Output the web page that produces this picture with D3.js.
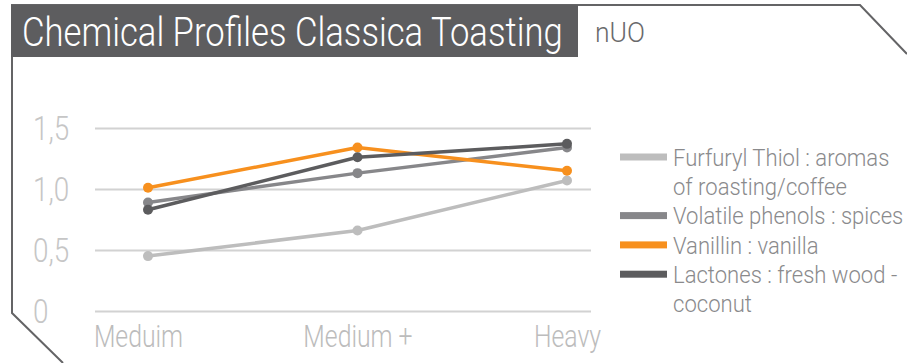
<!DOCTYPE html>
<html><head><meta charset="utf-8">
<script src="https://cdn.jsdelivr.net/npm/d3@7"></script>
<style>
html,body{margin:0;padding:0;background:#fff;}
svg{display:block;font-family:Roboto,"Open Sans",sans-serif;}
</style></head>
<body><svg id="chart" width="907" height="363"></svg>
<script>
const categories = ["Meduim", "Medium +", "Heavy"];
const seriesNames = ["Furfuryl Thiol : aromas of roasting/coffee", "Volatile phenols : spices", "Vanillin : vanilla", "Lactones : fresh wood - coconut"];
const legendLines = [["Furfuryl Thiol : aromas", "of roasting/coffee"], ["Volatile phenols : spices"], ["Vanillin : vanilla"], ["Lactones : fresh wood -", "coconut"]];
const furfurylThiol = [0.45, 0.66, 1.07];
const volatilePhenols = [0.89, 1.13, 1.34];
const vanillin = [1.01, 1.34, 1.15];
const lactones = [0.83, 1.26, 1.37];
const yTicks = [0, 0.5, 1.0, 1.5];
const yTickLabels = ["0", "0,5", "1,0", "1,5"];
const colors = ["#bdbdbd", "#87878a", "#f7901e", "#5c5c5e"];
const title = "Chemical Profiles Classica Toasting";
const unit = "nUO";

const series = [furfurylThiol, volatilePhenols, vanillin, lactones];
const svg = d3.select("#chart");

// horizontally condense a text placed at (px, py) by factor f (or to width w)
function placeCondensed(sel, px, py, f, w) {
  sel.each(function () {
    const n = this.getComputedTextLength();
    const k = w ? w / n : f;
    d3.select(this).attr("x", 0).attr("y", 0)
      .attr("transform", `translate(${px},${py}) scale(${k},1)`);
  });
}

// frame
svg.append("path")
  .attr("d", "M63,363 L12,313 L12,5 L860,5 L907,54")
  .attr("fill", "none").attr("stroke", "#646466").attr("stroke-width", 2);

// title box
svg.append("rect").attr("x", 11).attr("y", 5).attr("width", 567).attr("height", 52).attr("fill", "#5d5d5f");
placeCondensed(svg.append("text").attr("fill", "#fff")
  .attr("font-size", 40).attr("font-weight", 300).text(title), 22, 46, null, 541);
placeCondensed(svg.append("text").attr("fill", "#6a6a6c")
  .attr("font-size", 28).attr("font-weight", 300).text(unit), 595, 42, null, 50);

// scales
const x = d3.scalePoint().domain(categories).range([148, 567]);
const y = d3.scaleLinear().domain([0, 1.5]).range([311, 128]);

// grid
const grid = svg.append("g")
  .call(d3.axisLeft(y).tickValues(yTicks).tickSize(-496).tickFormat(""))
  .attr("transform", "translate(95,0)");
grid.select(".domain").remove();
grid.selectAll(".tick line").attr("stroke", "#d2d2d2").attr("stroke-width", 2);

// y labels
svg.append("g").selectAll("text").data(yTicks).join("text")
  .attr("dy", "0.36em")
  .attr("fill", "#c6c6c6").attr("font-size", 34).attr("font-weight", 300)
  .text((d, i) => yTickLabels[i])
  .each(function (d) { placeCondensed(d3.select(this), 33, y(d), 0.82); });

// x labels
const xa = svg.append("g").attr("transform", "translate(0,311)")
  .call(d3.axisBottom(x).tickSize(0).tickPadding(0));
xa.select(".domain").remove();
xa.selectAll(".tick text").attr("dy", 0)
  .attr("fill", "#bcbcbc").attr("font-size", 31).attr("font-weight", 300)
  .attr("font-family", "Roboto, sans-serif")
  .each(function (d, i) { placeCondensed(d3.select(this), i === 0 ? -10 : 0, 36, 0.8); });

// lines
const line = d3.line().x((d, i) => x(categories[i])).y(d => y(d));
const g = svg.append("g");
series.forEach((s, k) => {
  g.append("path").datum(s).attr("d", line).attr("fill", "none")
    .attr("stroke", colors[k]).attr("stroke-width", 3.5).attr("stroke-linejoin", "round");
  g.append("g").selectAll("circle").data(s).join("circle")
    .attr("cx", (d, i) => x(categories[i])).attr("cy", d => y(d)).attr("r", 5)
    .attr("fill", colors[k]);
});

// legend
const lg = svg.append("g");
let row = 0;
legendLines.forEach((lines, k) => {
  const yc = 157 + row * 29.3;
  lg.append("rect").attr("x", 620).attr("y", yc - 3.5).attr("width", 47).attr("height", 7).attr("fill", colors[k]);
  lines.forEach((t, j) => {
    const tx = lg.append("text").attr("dy", "0.36em")
      .attr("fill", "#8a8a8c").attr("font-size", 24).attr("font-weight", 300).text(t);
    placeCondensed(tx, 673, yc + j * 29.3, 0.92);
  });
  row += lines.length;
});
</script></body></html>
